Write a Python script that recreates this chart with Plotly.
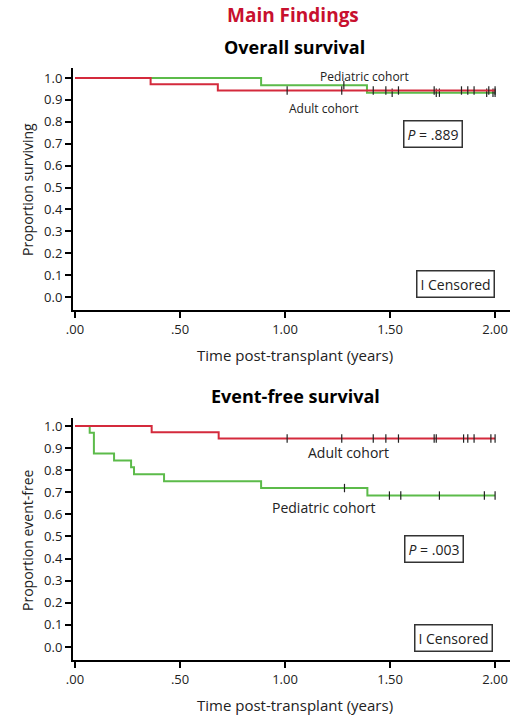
import plotly.graph_objects as go
import numpy as np

# ---------------- data ----------------
# Overall survival
os_adult_t = [0.0, 0.36, 0.68, 2.0]
os_adult_s = [1.0, 0.971, 0.943, 0.943]
os_adult_cens = [1.01, 1.27, 1.42, 1.48, 1.54, 1.71, 1.84, 1.87, 1.90, 1.97, 2.0]

os_ped_t = [0.0, 0.886, 1.39, 2.0]
os_ped_s = [1.0, 0.967, 0.933, 0.933]
os_ped_cens = [1.28, 1.51, 1.72, 1.735, 1.96, 1.99, 2.0]

# Event-free survival
efs_adult_t = [0.0, 0.365, 0.684, 2.0]
efs_adult_s = [1.0, 0.971, 0.943, 0.943]
efs_adult_cens = [1.01, 1.27, 1.42, 1.48, 1.54, 1.71, 1.72, 1.85, 1.87, 1.90, 1.98, 2.0]

efs_ped_t = [0.0, 0.07, 0.09, 0.186, 0.267, 0.281, 0.424, 0.886, 1.392, 2.0]
efs_ped_s = [1.0, 0.969, 0.875, 0.844, 0.813, 0.781, 0.75, 0.719, 0.685, 0.685]
efs_ped_cens = [1.283, 1.497, 1.551, 1.735, 1.949, 2.0]

x_tickvals = [0.0, 0.5, 1.0, 1.5, 2.0]
x_ticktext = [".00", ".50", "1.00", "1.50", "2.00"]

RED = "#d42a3c"
GREEN = "#5cbb4a"
FONT = "Open Sans"


def step_at(ts, ss, x):
    idx = np.searchsorted(np.array(ts), x, side="right") - 1
    return float(np.array(ss)[idx])


fig = go.Figure()


def add_curve(ts, ss, cens, color, xa, ya, name):
    fig.add_trace(go.Scatter(x=ts, y=ss, mode="lines", line=dict(color=color, width=2, shape="hv"),
                             xaxis=xa, yaxis=ya, name=name, showlegend=False, hoverinfo="skip"))
    fig.add_trace(go.Scatter(x=cens, y=[step_at(ts, ss, c) for c in cens], mode="markers",
                             marker=dict(symbol="line-ns", size=6, line=dict(color="#222222", width=1.2)),
                             xaxis=xa, yaxis=ya, name=name + " censored", showlegend=False, hoverinfo="skip"))


add_curve(os_ped_t, os_ped_s, os_ped_cens, GREEN, "x", "y", "Pediatric cohort")
add_curve(os_adult_t, os_adult_s, os_adult_cens, RED, "x", "y", "Adult cohort")
add_curve(efs_ped_t, efs_ped_s, efs_ped_cens, GREEN, "x2", "y2", "Pediatric cohort")
add_curve(efs_adult_t, efs_adult_s, efs_adult_cens, RED, "x2", "y2", "Adult cohort")

W, H = 516, 718
xdom = [73 / W, 510 / W]
xr = [-0.0095, 2.071]

axis_common = dict(showgrid=False, zeroline=False, showline=True, linecolor="black", linewidth=2,
                   ticks="outside", ticklen=6, tickwidth=1.5, tickcolor="black", automargin=False,
                   tickfont=dict(family=FONT, size=13, color="#222"))

fig.update_layout(
    width=W, height=H, margin=dict(l=0, r=0, t=0, b=0, pad=0), autosize=False,
    paper_bgcolor="white", plot_bgcolor="white",
    xaxis=dict(domain=xdom, range=xr, anchor="y", tickvals=x_tickvals, ticktext=x_ticktext, **axis_common),
    yaxis=dict(domain=[1 - 310 / H, 1 - 68 / H], range=[-0.059, 1.0457], anchor="x",
               tickvals=[i / 10 for i in range(11)], tickformat=".1f", **axis_common),
    xaxis2=dict(domain=xdom, range=xr, anchor="y2", tickvals=x_tickvals, ticktext=x_ticktext, **axis_common),
    yaxis2=dict(domain=[1 - 660 / H, 1 - 418 / H], range=[-0.059, 1.036], anchor="x2",
                tickvals=[i / 10 for i in range(11)], tickformat=".1f", **axis_common),
)

ann = []


def pa(text, px, py, size, bold=False, color="black", angle=0):
    ann.append(dict(text=f"<b>{text}</b>" if bold else text, x=px / W, y=1 - py / H, xref="paper", yref="paper",
                    showarrow=False, textangle=angle, xanchor="center", yanchor="middle",
                    font=dict(family=FONT, size=size, color=color)))


pa("Main Findings", 293, 15, 19, bold=True, color="#c8102e")
pa("Overall survival", 294, 47, 18, bold=True)
pa("Event-free survival", 295, 396, 18, bold=True)
pa("Time post-transplant (years)", 295, 355, 15, color="#222")
pa("Time post-transplant (years)", 295, 705, 15, color="#222")
pa("Proportion surviving", 27, 190, 14, color="#222", angle=-90)
pa("Proportion event-free", 27, 540, 14, color="#222", angle=-90)


def da(text, x, y, xa, ya, size, box=False):
    d = dict(text=text, x=x, y=y, xref=xa, yref=ya, showarrow=False, xanchor="center", yanchor="middle",
             font=dict(family=FONT, size=size, color="#222"))
    if box:
        d.update(bordercolor="#333", borderwidth=1.5, borderpad=3, bgcolor="white")
    ann.append(d)


da("Pediatric cohort", 1.376, 1.005, "x", "y", 12)
da("Adult cohort", 1.181, 0.863, "x", "y", 12)
da("<i>P</i> = .889", 1.705, 0.744, "x", "y", 14, box=True)
da("I Censored", 1.81, 0.06, "x", "y", 14, box=True)

da("Adult cohort", 1.30, 0.878, "x2", "y2", 14)
da("Pediatric cohort", 1.186, 0.633, "x2", "y2", 14)
da("<i>P</i> = .003", 1.71, 0.443, "x2", "y2", 14, box=True)
da("I Censored", 1.80, 0.041, "x2", "y2", 14, box=True)

fig.update_layout(annotations=ann)
fig.write_html("out.html", config={"displayModeBar": False},
               post_script="document.body.style.margin='0';document.body.style.overflow='hidden';")
